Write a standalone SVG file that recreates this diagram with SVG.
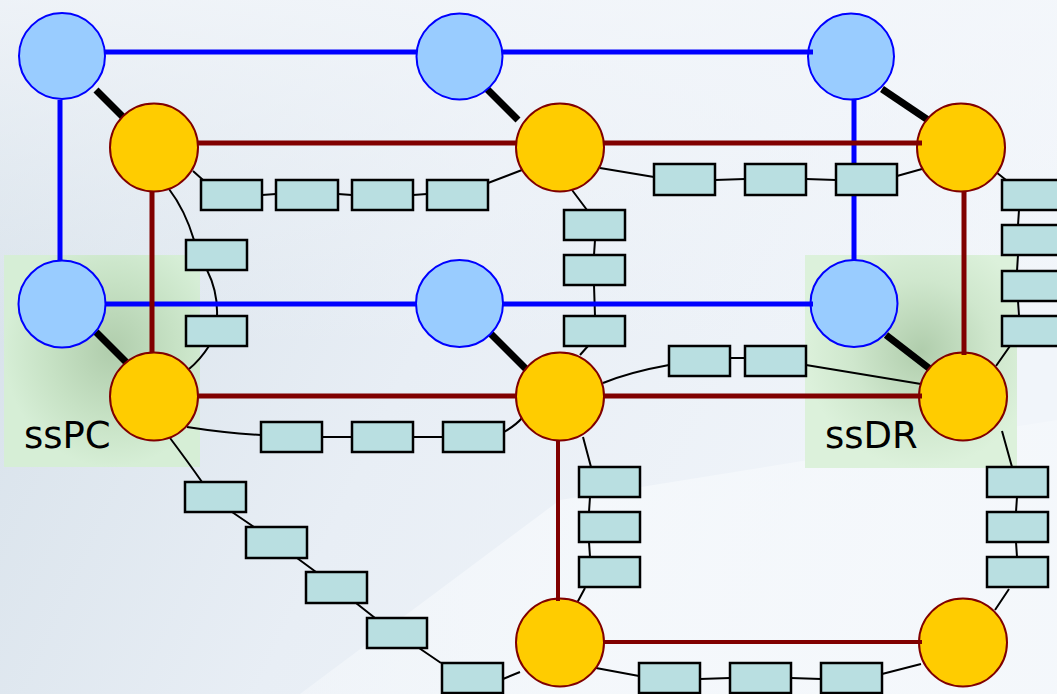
<svg xmlns="http://www.w3.org/2000/svg" width="1057" height="694" viewBox="0 0 1057 694">
<defs>
<linearGradient id="bg" x1="0" y1="0" x2="1" y2="0.3">
<stop offset="0" stop-color="#d4dfe8"/>
<stop offset="0.5" stop-color="#e8eef5"/>
<stop offset="1" stop-color="#f1f5fa"/>
</linearGradient>
<linearGradient id="bgTop" x1="0" y1="0" x2="0" y2="1">
<stop offset="0" stop-color="#f4f7fb" stop-opacity="0.8"/>
<stop offset="0.5" stop-color="#f4f7fb" stop-opacity="0"/>
</linearGradient>
<linearGradient id="bgLow" x1="0" y1="0" x2="1" y2="0">
<stop offset="0" stop-color="#f6f9fc" stop-opacity="0.5"/>
<stop offset="0.4" stop-color="#f6f9fc" stop-opacity="0.8"/>
<stop offset="1" stop-color="#f6f9fc" stop-opacity="0.6"/>
</linearGradient>
<radialGradient id="gPC" cx="0.55" cy="0.45" r="0.55">
<stop offset="0" stop-color="#b0cdac"/>
<stop offset="0.6" stop-color="#c7e2c5"/>
<stop offset="1" stop-color="#d6eed6"/>
</radialGradient>
<radialGradient id="gDR" cx="0.55" cy="0.45" r="0.55">
<stop offset="0" stop-color="#b0cdac"/>
<stop offset="0.6" stop-color="#cfe7cd"/>
<stop offset="1" stop-color="#dcf1db"/>
</radialGradient>
<style>
.blue{fill:#99ccff;stroke:#0000ff;stroke-width:2}
.org{fill:#ffcc00;stroke:#800000;stroke-width:2}
.bl{stroke:#0000ff;stroke-width:5;fill:none}
.rd{stroke:#800000;stroke-width:5;fill:none}
.rd2{stroke:#800000;stroke-width:4;fill:none}
.bk{stroke:#000;stroke-width:7;fill:none}
.th{stroke:#000;stroke-width:2;fill:none}
.box{fill:#b9dfe1;stroke:#000;stroke-width:2.5}
.lbl{font-family:"DejaVu Sans",Verdana,sans-serif;font-size:37px;fill:#000}
</style>
</defs>
<rect width="1057" height="694" fill="url(#bg)"/>
<rect width="1057" height="694" fill="url(#bgTop)"/>
<polygon points="300,694 560,500 1057,420 1057,694" fill="url(#bgLow)"/>

<g id="ssPC">
<rect x="4" y="255" width="196" height="212" fill="url(#gPC)"/>
<text class="lbl" x="24" y="448">ssPC</text>
</g>
<g id="ssDR">
<rect x="805" y="255" width="212" height="213" fill="url(#gDR)"/>
<text class="lbl" x="825" y="448">ssDR</text>
</g>

<g id="connectors">
<path class="th" d="M193,171 L203,180 M262,195 L276,194 M338,194 L352,195 M413,195 L427,194 M488,183 L522,170"/>
<path class="th" d="M600,168 L654,177 M715,180 L745,179 M806,179 L836,180 M897,176 L922,169"/>
<path class="th" d="M996,172 L1006,180 M1019,210 L1018,225 M1018,255 L1017,271 M1018,301 L1019,316 M1010,346 L996,366"/>
<path class="th" d="M169,189 Q185,210 194,240 M207,270 Q218,292 217,316 M209,346 Q200,360 189,369"/>
<path class="th" d="M572,190 L587,210 M595,240 L594,255 M594,285 L595,316 M588,346 L580,355"/>
<path class="th" d="M187,427 Q225,433 261,435 M322,437 L352,437 M413,437 L443,437 M504,432 Q516,425 522,418"/>
<path class="th" d="M603,383 Q630,372 669,365 M729,358 L745,358 M806,365 L921,384"/>
<path class="th" d="M583,437 L591,467 M590,497 L589,512 M589,542 L590,557 M585,588 L577,603"/>
<path class="th" d="M1002,431 L1012,467 M1017,497 L1016,512 M1016,542 L1017,557 M1009,589 L995,610"/>
<path class="th" d="M596,668 L639,676 M700,679 L730,678 M791,678 L821,679 M882,674 L921,664"/>
<path class="th" d="M170,438 Q188,462 202,482 M232,512 L254,527 M297,558 L316,572 M356,603 L375,618 M419,648 L441,663 M503,679 L520,672"/>
<line class="bl" x1="105" y1="52" x2="417" y2="52"/>
<line class="bl" x1="502" y1="52" x2="813" y2="52"/>
<line class="bl" x1="60" y1="100" x2="60" y2="260"/>
<line class="bl" x1="854" y1="100" x2="854" y2="260"/>
<line class="bl" x1="105" y1="304" x2="417" y2="304"/>
<line class="bl" x1="502" y1="304" x2="813" y2="304"/>
<line class="rd" x1="198" y1="143" x2="516" y2="143"/>
<line class="rd" x1="604" y1="143" x2="922" y2="143"/>
<line class="rd" x1="152" y1="192" x2="152" y2="352"/>
<line class="rd" x1="964" y1="192" x2="964" y2="352"/>
<line class="rd" x1="198" y1="396" x2="516" y2="396"/>
<line class="rd" x1="604" y1="396" x2="922" y2="396"/>
<line class="rd2" x1="558" y1="440" x2="558" y2="601"/>
<line class="rd2" x1="604" y1="642" x2="922" y2="642"/>
<line class="bk" x1="96" y1="90" x2="124" y2="118"/>
<line class="bk" x1="487" y1="89" x2="518" y2="120"/>
<line class="bk" x1="882" y1="89" x2="928" y2="120"/>
<line class="bk" x1="96" y1="332" x2="126" y2="362"/>
<line class="bk" x1="491" y1="334" x2="526" y2="369"/>
<line class="bk" x1="886" y1="335" x2="930" y2="369"/>
</g>

<g id="boxes">
<rect class="box" x="201" y="180" width="61" height="30"/>
<rect class="box" x="276" y="180" width="62" height="30"/>
<rect class="box" x="352" y="180" width="61" height="30"/>
<rect class="box" x="427" y="180" width="61" height="30"/>
<rect class="box" x="654" y="164" width="61" height="31"/>
<rect class="box" x="745" y="164" width="61" height="31"/>
<rect class="box" x="836" y="164" width="61" height="31"/>
<rect class="box" x="1002" y="180" width="61" height="30"/>
<rect class="box" x="1002" y="225" width="61" height="30"/>
<rect class="box" x="1002" y="271" width="61" height="30"/>
<rect class="box" x="1002" y="316" width="61" height="30"/>
<rect class="box" x="186" y="240" width="61" height="30"/>
<rect class="box" x="186" y="316" width="61" height="30"/>
<rect class="box" x="564" y="210" width="61" height="30"/>
<rect class="box" x="564" y="255" width="61" height="30"/>
<rect class="box" x="564" y="316" width="61" height="30"/>
<rect class="box" x="261" y="422" width="61" height="30"/>
<rect class="box" x="352" y="422" width="61" height="30"/>
<rect class="box" x="443" y="422" width="61" height="30"/>
<rect class="box" x="669" y="346" width="61" height="30"/>
<rect class="box" x="745" y="346" width="61" height="30"/>
<rect class="box" x="579" y="467" width="61" height="30"/>
<rect class="box" x="579" y="512" width="61" height="30"/>
<rect class="box" x="579" y="557" width="61" height="30"/>
<rect class="box" x="987" y="467" width="61" height="30"/>
<rect class="box" x="987" y="512" width="61" height="30"/>
<rect class="box" x="987" y="557" width="61" height="30"/>
<rect class="box" x="639" y="663" width="61" height="30"/>
<rect class="box" x="730" y="663" width="61" height="30"/>
<rect class="box" x="821" y="663" width="61" height="30"/>
<rect class="box" x="185" y="482" width="61" height="30"/>
<rect class="box" x="246" y="527" width="61" height="31"/>
<rect class="box" x="306" y="572" width="61" height="31"/>
<rect class="box" x="367" y="618" width="60" height="30"/>
<rect class="box" x="442" y="663" width="61" height="30"/>
</g>

<g id="B1"><circle class="blue" cx="62" cy="56" r="43"/></g>
<g id="B2"><circle class="blue" cx="459.5" cy="56.5" r="43"/></g>
<g id="B3"><circle class="blue" cx="851" cy="56.5" r="43"/></g>
<g id="B4"><circle class="blue" cx="62" cy="304" r="43.5"/></g>
<g id="B5"><circle class="blue" cx="459.5" cy="303.5" r="43.5"/></g>
<g id="B6"><circle class="blue" cx="854" cy="303.5" r="43.5"/></g>
<g id="O1"><circle class="org" cx="154" cy="147.5" r="44"/></g>
<g id="O2"><circle class="org" cx="560" cy="147.5" r="44"/></g>
<g id="O3"><circle class="org" cx="961" cy="147.5" r="44"/></g>
<g id="O4"><circle class="org" cx="154" cy="396.5" r="44"/></g>
<g id="O5"><circle class="org" cx="560" cy="396.5" r="44"/></g>
<g id="O6"><circle class="org" cx="963" cy="396.5" r="44"/></g>
<g id="O7"><circle class="org" cx="560" cy="642.5" r="44"/></g>
<g id="O8"><circle class="org" cx="963" cy="642.5" r="44"/></g>

<g id="overlaps">
<line class="bl" x1="808" y1="52" x2="813" y2="52"/>
<line class="bl" x1="811" y1="304" x2="813" y2="304"/>
<line class="rd" x1="917" y1="143" x2="922" y2="143"/>
<line class="rd" x1="919" y1="396" x2="922" y2="396"/>
<line class="rd" x1="964" y1="352" x2="964" y2="355"/>
<line class="rd2" x1="558" y1="598" x2="558" y2="601"/>
<line class="rd2" x1="919" y1="642" x2="922" y2="642"/>
</g>
</svg>
